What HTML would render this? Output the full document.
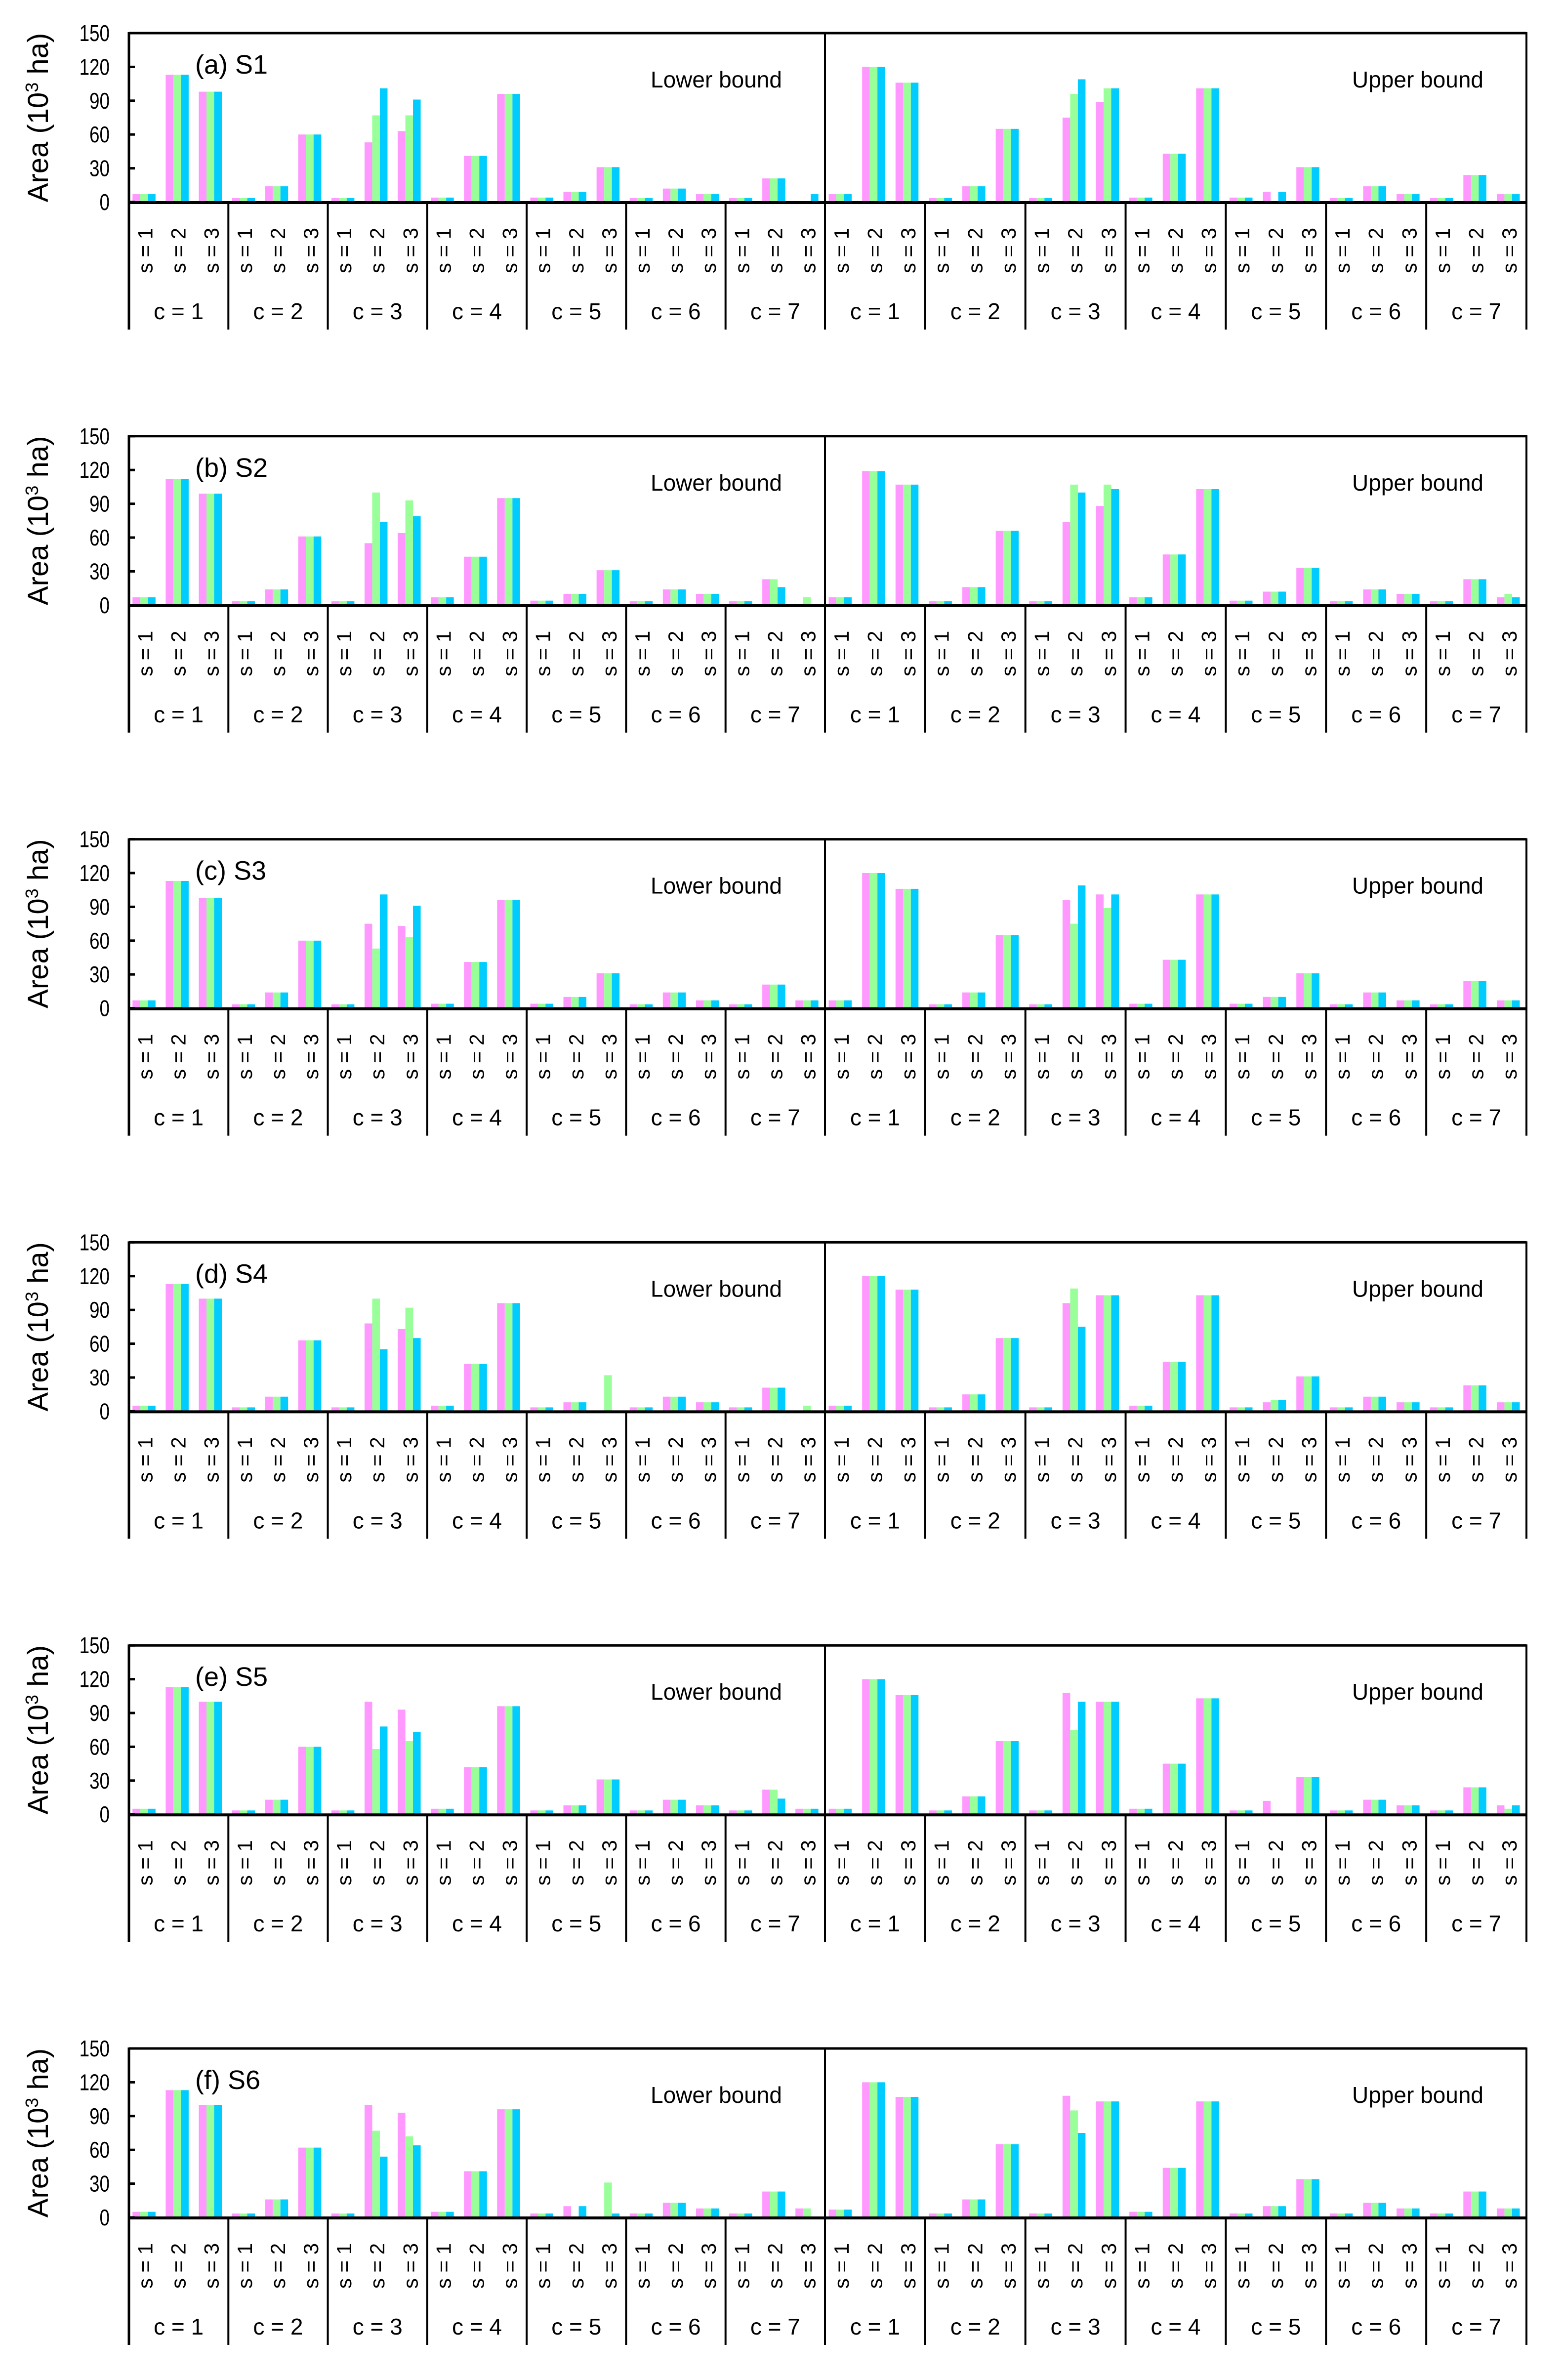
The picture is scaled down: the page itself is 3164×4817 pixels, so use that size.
<!DOCTYPE html>
<html><head><meta charset="utf-8"><style>
html,body{margin:0;padding:0;background:#fff;}
svg{display:block;}
text{font-family:"Liberation Sans",Arial,sans-serif;fill:#000;}
</style></head><body>
<svg id="chart" width="3164" height="4817" viewBox="0 0 3164 4817" xmlns="http://www.w3.org/2000/svg"></svg>
<script>
// values per panel: [lower bound 7 groups][3 s][3 series], then upper bound
const panelTitles = ["(a) S1","(b) S2","(c) S3","(d) S4","(e) S5","(f) S6"];
const yTicks = [0,30,60,90,120,150];
const seriesColors = ["#ff99ff","#99ff99","#00ccff"];
const groupLabels = ["c = 1","c = 2","c = 3","c = 4","c = 5","c = 6","c = 7"];
const sLabels = ["s = 1","s = 2","s = 3"];
const lowerA = [[[7,7,7],[113,113,113],[98,98,98]],[[3.5,3.5,3.5],[14,14,14],[60,60,60]],[[3.5,3.5,3.5],[53,77,101],[63,77,91]],[[4,4,4],[41,41,41],[96,96,96]],[[4,4,4],[9,9,9],[31,31,31]],[[3.5,3.5,3.5],[12,12,12],[7,7,7]],[[3.5,3.5,3.5],[21,21,21],[0,0,7]]];
const upperA = [[[7,7,7],[120,120,120],[106,106,106]],[[3.5,3.5,3.5],[14,14,14],[65,65,65]],[[3.5,3.5,3.5],[75,96,109],[89,101,101]],[[4,4,4],[43,43,43],[101,101,101]],[[4,4,4],[9,0,9],[31,31,31]],[[3.5,3.5,3.5],[14,14,14],[7,7,7]],[[3.5,3.5,3.5],[24,24,24],[7,7,7]]];
const lowerB = [[[7,7,7],[112,112,112],[99,99,99]],[[3.5,3.5,3.5],[14,14,14],[61,61,61]],[[3.5,3.5,3.5],[55,100,74],[64,93,79]],[[7,7,7],[43,43,43],[95,95,95]],[[4,4,4],[10,10,10],[31,31,31]],[[3.5,3.5,3.5],[14,14,14],[10,10,10]],[[3.5,3.5,3.5],[23,23,16],[0,7,0]]];
const upperB = [[[7,7,7],[119,119,119],[107,107,107]],[[3.5,3.5,3.5],[16,16,16],[66,66,66]],[[3.5,3.5,3.5],[74,107,100],[88,107,103]],[[7,7,7],[45,45,45],[103,103,103]],[[4,4,4],[12,12,12],[33,33,33]],[[3.5,3.5,3.5],[14,14,14],[10,10,10]],[[3.5,3.5,3.5],[23,23,23],[7,10,7]]];
const lowerC = [[[7,7,7],[113,113,113],[98,98,98]],[[3.5,3.5,3.5],[14,14,14],[60,60,60]],[[3.5,3.5,3.5],[75,53,101],[73,63,91]],[[4,4,4],[41,41,41],[96,96,96]],[[4,4,4],[10,10,10],[31,31,31]],[[3.5,3.5,3.5],[14,14,14],[7,7,7]],[[3.5,3.5,3.5],[21,21,21],[7,7,7]]];
const upperC = [[[7,7,7],[120,120,120],[106,106,106]],[[3.5,3.5,3.5],[14,14,14],[65,65,65]],[[3.5,3.5,3.5],[96,75,109],[101,89,101]],[[4,4,4],[43,43,43],[101,101,101]],[[4,4,4],[10,10,10],[31,31,31]],[[3.5,3.5,3.5],[14,14,14],[7,7,7]],[[3.5,3.5,3.5],[24,24,24],[7,7,7]]];
const lowerD = [[[5,5,5],[113,113,113],[100,100,100]],[[3.5,3.5,3.5],[13,13,13],[63,63,63]],[[3.5,3.5,3.5],[78,100,55],[73,92,65]],[[5,5,5],[42,42,42],[96,96,96]],[[3.5,3.5,3.5],[8,8,8],[0,32,0]],[[3.5,3.5,3.5],[13,13,13],[8,8,8]],[[3.5,3.5,3.5],[21,21,21],[0,5,0]]];
const upperD = [[[5,5,5],[120,120,120],[108,108,108]],[[3.5,3.5,3.5],[15,15,15],[65,65,65]],[[3.5,3.5,3.5],[96,109,75],[103,103,103]],[[5,5,5],[44,44,44],[103,103,103]],[[3.5,3.5,3.5],[8,10,10],[31,31,31]],[[3.5,3.5,3.5],[13,13,13],[8,8,8]],[[3.5,3.5,3.5],[23,23,23],[8,8,8]]];
const lowerE = [[[5,5,5],[113,113,113],[100,100,100]],[[3.5,3.5,3.5],[13,13,13],[60,60,60]],[[3.5,3.5,3.5],[100,58,78],[93,65,73]],[[5,5,5],[42,42,42],[96,96,96]],[[3.5,3.5,3.5],[8,8,8],[31,31,31]],[[3.5,3.5,3.5],[13,13,13],[8,8,8]],[[3.5,3.5,3.5],[22,22,14],[5,5,5]]];
const upperE = [[[5,5,5],[120,120,120],[106,106,106]],[[3.5,3.5,3.5],[16,16,16],[65,65,65]],[[3.5,3.5,3.5],[108,75,100],[100,100,100]],[[5,5,5],[45,45,45],[103,103,103]],[[3.5,3.5,3.5],[12,0,0],[33,33,33]],[[3.5,3.5,3.5],[13,13,13],[8,8,8]],[[3.5,3.5,3.5],[24,24,24],[8,5,8]]];
const lowerF = [[[5,5,5],[113,113,113],[100,100,100]],[[3.5,3.5,3.5],[16,16,16],[62,62,62]],[[3.5,3.5,3.5],[100,77,54],[93,72,64]],[[5,5,5],[41,41,41],[96,96,96]],[[3.5,3.5,3.5],[10,0,10],[0,31,3.5]],[[3.5,3.5,3.5],[13,13,13],[8,8,8]],[[3.5,3.5,3.5],[23,23,23],[8,8,0]]];
const upperF = [[[7,7,7],[120,120,120],[107,107,107]],[[3.5,3.5,3.5],[16,16,16],[65,65,65]],[[3.5,3.5,3.5],[108,95,75],[103,103,103]],[[5,5,5],[44,44,44],[103,103,103]],[[3.5,3.5,3.5],[10,10,10],[34,34,34]],[[3.5,3.5,3.5],[13,13,13],[8,8,8]],[[3.5,3.5,3.5],[23,23,23],[8,8,8]]];
const panelLower = [lowerA,lowerB,lowerC,lowerD,lowerE,lowerF];
const panelUpper = [upperA,upperB,upperC,upperD,upperE,upperF];

const NS="http://www.w3.org/2000/svg";
const svg=document.getElementById('chart');
function mk(tag,attrs,parent){const e=document.createElementNS(NS,tag);for(const k in attrs)e.setAttribute(k,attrs[k]);(parent||svg).appendChild(e);return e;}
const X0=261, XMID=1670, X1=3090, PH=342, PANEL_DY=815.8, TOP0=67;
const halves=[{x:X0,w:(XMID-X0)/7},{x:XMID,w:(X1-XMID)/7}];
const BW=15.5;

panelTitles.forEach((title,p)=>{
  const top=TOP0+p*PANEL_DY, base=top+PH;
  const yScale=v=>base-(v/150)*PH;
  const g=mk('g',{});
  
  
  [panelLower[p],panelUpper[p]].forEach((data,h)=>{
    const hx=halves[h].x, gw=halves[h].w, sw=gw/3;
    data.forEach((grp,c)=>{
      grp.forEach((vals,s)=>{
        const cx=hx+c*gw+s*sw+sw/2-3;
        vals.forEach((v,k)=>{
          if(v<=0)return;
          const r=mk('rect',{x:cx-1.5*BW+k*BW,y:yScale(v),width:BW,height:base-yScale(v),fill:seriesColors[k]},g);
          
          
        });
      });
    });
  });
  const ax=mk('g',{},g);
  
  
  mk('line',{x1:X0,y1:top,x2:X1,y2:top,stroke:'#000','stroke-width':5},ax);
  mk('line',{x1:X0,y1:base+1,x2:X1+2,y2:base+1,stroke:'#000','stroke-width':6},ax);
  mk('line',{x1:X0,y1:top-2,x2:X0,y2:base+258,stroke:'#000','stroke-width':5},ax);
  mk('line',{x1:X1,y1:top-2,x2:X1,y2:base+258,stroke:'#000','stroke-width':4},ax);
  mk('line',{x1:XMID,y1:top,x2:XMID,y2:base+258,stroke:'#000','stroke-width':4},ax);
  halves.forEach(hf=>{for(let c=1;c<7;c++){const x=hf.x+c*hf.w;mk('line',{x1:x,y1:base,x2:x,y2:base+258,stroke:'#000','stroke-width':4},ax);}});
  yTicks.forEach(t=>{
    const y=yScale(t);
    mk('line',{x1:X0,y1:y,x2:X0+12,y2:y,stroke:'#000','stroke-width':5},ax);
    const tl=mk('text',{x:222,y:y+16,'text-anchor':'end','font-size':46,transform:`translate(222,0) scale(0.8,1) translate(-222,0)`},ax);
    tl.textContent=t;
    
    
  });
  const yt=mk('text',{x:0,y:0,'text-anchor':'middle','font-size':58,transform:`translate(97,${top+PH/2}) rotate(-90)`},g);
  yt.innerHTML='Area (10<tspan font-size="36" dy="-20">3</tspan><tspan dy="20"> ha)</tspan>';
  
  
  halves.forEach(hf=>{
    for(let c=0;c<7;c++){
      for(let s=0;s<3;s++){
        const x=hf.x+c*hf.w+(s+0.5)*hf.w/3;
        const st=mk('text',{x:0,y:0,'text-anchor':'middle','font-size':42,transform:`translate(${x+14},${base+98}) rotate(-90)`},g);
        st.textContent=sLabels[s];
        
        
      }
      const cx=hf.x+(c+0.5)*hf.w;
      const ct=mk('text',{x:cx,y:base+237,'text-anchor':'middle','font-size':46},g);
      ct.textContent=groupLabels[c];
      
      
    }
  });
  const pt=mk('text',{x:395,y:top+82,'font-size':54},g);
  pt.textContent=title;
  
  
  const lb=mk('text',{x:1450,y:top+110,'text-anchor':'middle','font-size':46},g);
  lb.textContent='Lower bound';
  
  
  const ub=mk('text',{x:2870,y:top+110,'text-anchor':'middle','font-size':46},g);
  ub.textContent='Upper bound';
  
  
});
</script>
</body></html>
